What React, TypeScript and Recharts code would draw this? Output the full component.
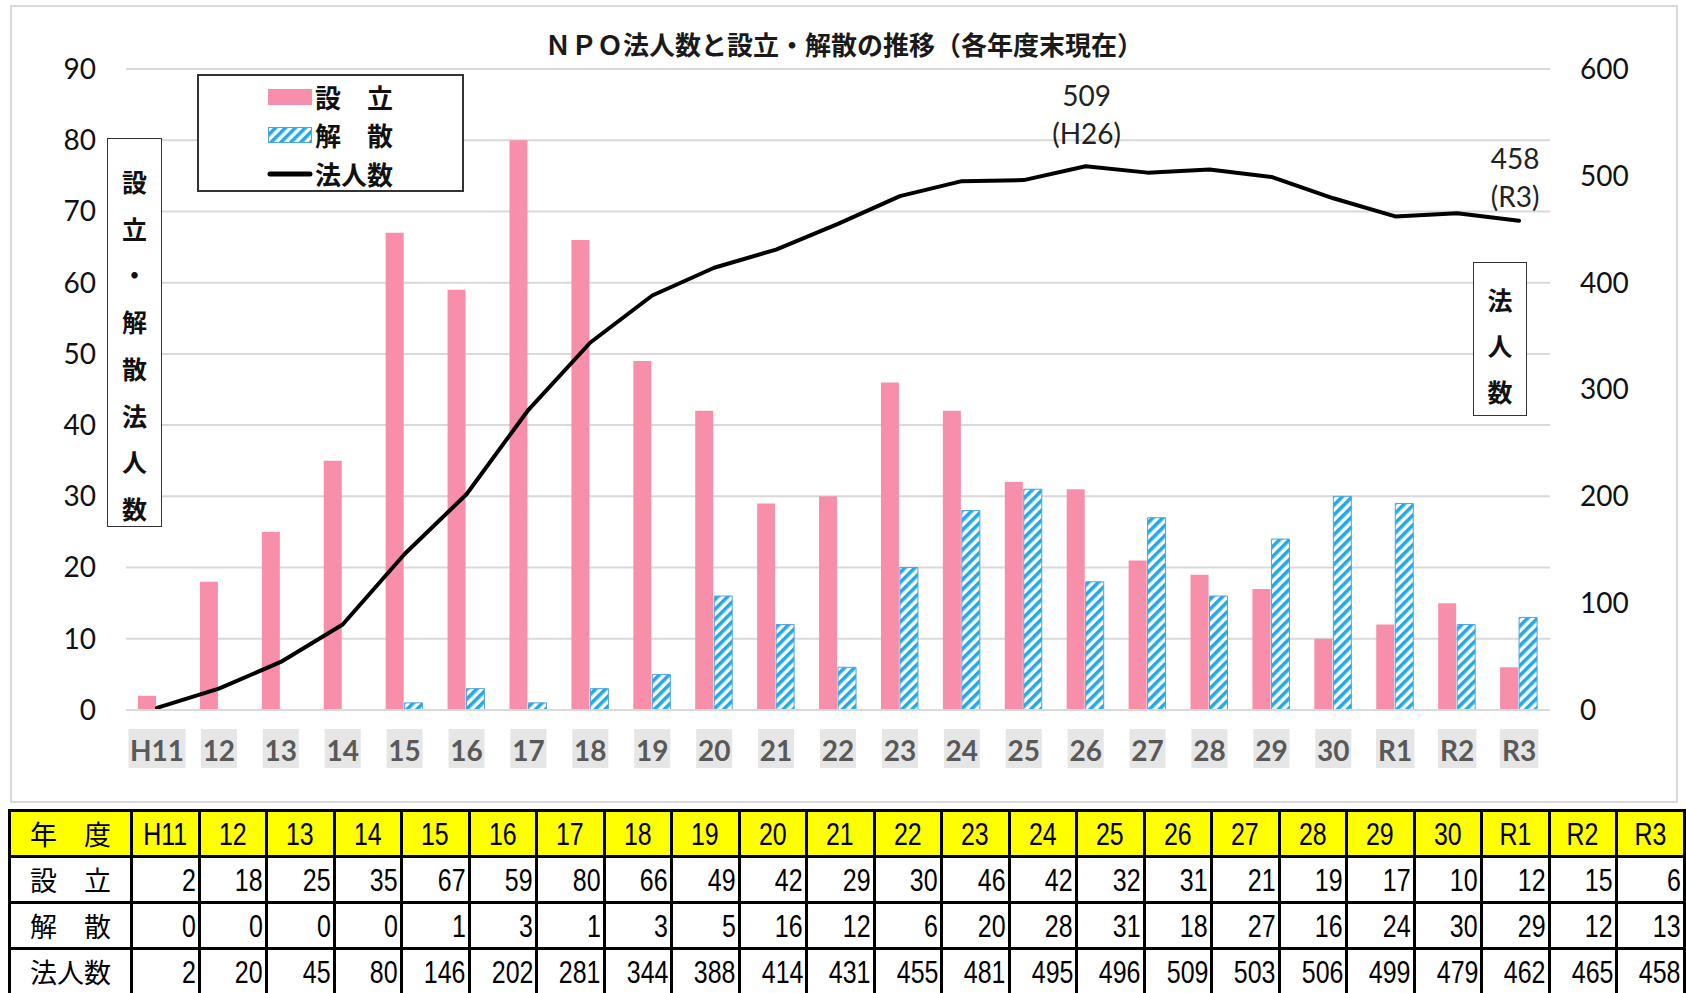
import React from 'react';
import { ComposedChart, Bar, Line, XAxis, YAxis, CartesianGrid } from 'recharts';

const years = ['H11', '12', '13', '14', '15', '16', '17', '18', '19', '20', '21', '22', '23', '24', '25', '26', '27', '28', '29', '30', 'R1', 'R2', 'R3'];
const established = [2, 18, 25, 35, 67, 59, 80, 66, 49, 42, 29, 30, 46, 42, 32, 31, 21, 19, 17, 10, 12, 15, 6];
const dissolved = [0, 0, 0, 0, 1, 3, 1, 3, 5, 16, 12, 6, 20, 28, 31, 18, 27, 16, 24, 30, 29, 12, 13];
const corporations = [2, 20, 45, 80, 146, 202, 281, 344, 388, 414, 431, 455, 481, 495, 496, 509, 503, 506, 499, 479, 462, 465, 458];
const leftTicks = [0, 10, 20, 30, 40, 50, 60, 70, 80, 90];
const rightTicks = [0, 100, 200, 300, 400, 500, 600];
const seriesNames = ['設　立', '解　散', '法人数'];
const rowHeads = ['年　度', '設　立', '解　散', '法人数'];
const titleText = 'ＮＰＯ法人数と設立・解散の推移（各年度末現在）';
const leftAxisTitle = '設立・解散法人数';
const rightAxisTitle = '法人数';
const callouts = [
  { index: 15, era: 'H26' },
  { index: 22, era: 'R3' },
];

const calloutOffsets: Record<string, { dx: number; dy1: number; dy2: number }> = {
  H26: { dx: 1, dy1: -60, dy2: -22 },
  R3: { dx: -4, dy1: -52, dy2: -14 },
};

const data = years.map((y, i) => ({
  year: y,
  est: established[i],
  dis: dissolved[i],
  total: corporations[i],
}));

const PINK = '#F78FAB';
const STRIPE = '#22A9E6';
const BLUE_EDGE = '#4FA3E0';
const LATIN = 'Lato, "Noto Sans CJK JP", sans-serif';
const CJK = '"Noto Sans CJK JP", "Noto Sans", sans-serif';
const NARROW = '"Liberation Sans", Arial, sans-serif';

const charW = (s: string) =>
  s.split('').reduce((a, ch) => a + (ch === 'H' ? 21 : ch === 'R' ? 19 : 16.5), 0);

const XTick = (props: any) => {
  const { x, y, payload } = props;
  const label = String(payload.value);
  const w = charW(label) + 3;
  return (
    <g>
      <rect x={x - w / 2} y={y + 19} width={w} height={39} fill="#E7E6E6" />
      <text x={x} y={y + 51} textAnchor="middle" fontSize={28} fontWeight={700} fill="#595959" fontFamily={LATIN}>
        {label}
      </text>
    </g>
  );
};

const CalloutDot = (props: any) => {
  const { cx, cy, index, payload } = props;
  const c = callouts.find((k) => k.index === index);
  if (!c || cx == null || cy == null) return <g key={`d-${index}`} />;
  const o = calloutOffsets[c.era];
  return (
    <g key={`d-${index}`}>
      <text x={cx + o.dx} y={cy + o.dy1} textAnchor="middle" fontSize={28} fill="#222" fontFamily={LATIN}>
        {payload.total}
      </text>
      <text x={cx + o.dx} y={cy + o.dy2} textAnchor="middle" fontSize={28} fill="#222" fontFamily={LATIN}>
        ({c.era})
      </text>
    </g>
  );
};

const HatchDefs = ({ id }: { id: string }) => (
  <defs>
    <pattern id={id} patternUnits="userSpaceOnUse" width={7} height={7} patternTransform="rotate(45)">
      <rect x={0} y={0} width={7} height={7} fill="#fff" />
      <rect x={0} y={0} width={3.6} height={7} fill={STRIPE} />
    </pattern>
  </defs>
);

const VerticalTitle = ({ text, left, top, width, height, first, step }: any) => (
  <div
    style={{
      position: 'absolute',
      left,
      top,
      width,
      height,
      border: '1.5px solid #333',
      boxSizing: 'border-box',
      background: '#fff',
    }}
  >
    {text.split('').map((ch: string, i: number) => (
      <div
        key={i}
        style={{
          position: 'absolute',
          left: 0,
          width: '100%',
          top: first + i * step - 16,
          height: 32,
          lineHeight: '32px',
          textAlign: 'center',
          fontFamily: CJK,
          fontSize: 25,
          fontWeight: 700,
          color: '#111',
        }}
      >
        {ch}
      </div>
    ))}
  </div>
);

const Legend = () => {
  const rowY = [21, 59, 98];
  return (
    <div
      style={{
        position: 'absolute',
        left: 197,
        top: 74,
        width: 267,
        height: 118,
        border: '2px solid #333',
        boxSizing: 'border-box',
        background: '#fff',
      }}
    >
      {seriesNames.map((name, i) => (
        <React.Fragment key={name}>
          <svg style={{ position: 'absolute', left: 67, top: rowY[i] - 10 }} width={48} height={20}>
            <HatchDefs id={`lg-hatch-${i}`} />
            {i === 0 && <rect x={2} y={2} width={44} height={16} fill={PINK} />}
            {i === 1 && <rect x={2.5} y={2.5} width={43} height={15} fill={`url(#lg-hatch-${i})`} stroke={BLUE_EDGE} strokeWidth={1} />}
            {i === 2 && <line x1={4} y1={10} x2={44} y2={10} stroke="#000" strokeWidth={5} strokeLinecap="round" />}
          </svg>
          <div
            style={{
              position: 'absolute',
              left: 116,
              top: rowY[i] - 17,
              height: 34,
              lineHeight: '34px',
              fontFamily: CJK,
              fontSize: 26,
              fontWeight: 700,
              color: '#111',
              whiteSpace: 'pre',
            }}
          >
            {name}
          </div>
        </React.Fragment>
      ))}
    </div>
  );
};

const cellBorder = '3px solid #000';

const DataTable = () => {
  const rows = [
    { head: rowHeads[0], vals: years, header: true },
    { head: rowHeads[1], vals: established.map(String), header: false },
    { head: rowHeads[2], vals: dissolved.map(String), header: false },
    { head: rowHeads[3], vals: corporations.map(String), header: false },
  ];
  return (
    <table
      style={{
        position: 'absolute',
        left: 8,
        top: 809,
        width: 1676,
        borderCollapse: 'collapse',
        tableLayout: 'fixed',
      }}
    >
      <colgroup>
        <col style={{ width: 122 }} />
        {years.map((y) => (
          <col key={y} style={{ width: 67.5 }} />
        ))}
      </colgroup>
      <tbody>
        {rows.map((r, ri) => (
          <tr key={ri} style={{ height: 46 }}>
            <td
              style={{
                border: cellBorder,
                background: r.header ? '#FFFF00' : '#fff',
                textAlign: 'center',
                fontFamily: CJK,
                fontSize: 27,
                padding: 0,
                lineHeight: '40px',
                whiteSpace: 'pre',
                color: '#000',
              }}
            >
              {r.head}
            </td>
            {r.vals.map((v, ci) => (
              <td
                key={ci}
                style={{
                  border: cellBorder,
                  background: r.header ? '#FFFF00' : '#fff',
                  textAlign: r.header ? 'center' : 'right',
                  paddingRight: r.header ? 0 : 2,
                  paddingLeft: 0,
                  paddingTop: 0,
                  paddingBottom: 0,
                  fontFamily: NARROW,
                  fontSize: 32,
                  lineHeight: '40px',
                  color: '#000',
                  whiteSpace: 'nowrap',
                  overflow: 'hidden',
                }}
              >
                <span
                  style={{
                    display: 'inline-block',
                    transform: 'scaleX(0.78)',
                    transformOrigin: r.header ? 'center center' : 'right center',
                  }}
                >
                  {v}
                </span>
              </td>
            ))}
          </tr>
        ))}
      </tbody>
    </table>
  );
};

export default function App() {
  return (
    <div style={{ position: 'absolute', left: 0, top: 0, width: 1686, height: 993, background: '#fff', overflow: 'hidden' }}>
      <div
        style={{
          position: 'absolute',
          left: 10,
          top: 5,
          width: 1668,
          height: 798,
          border: '2px solid #D9D9D9',
          boxSizing: 'border-box',
        }}
      />
      <div style={{ position: 'absolute', left: 10, top: 5 }}>
        <ComposedChart
          width={1668}
          height={798}
          data={data}
          margin={{ top: 64, right: 0, bottom: 33, left: 0 }}
          barGap={1}
        >
          <HatchDefs id="bar-hatch" />
          <CartesianGrid yAxisId="left" vertical={false} stroke="#D9D9D9" strokeWidth={2} />
          <XAxis
            dataKey="year"
            interval={0}
            height={60}
            tickSize={0}
            tickMargin={0}
            tickLine={false}
            axisLine={{ stroke: '#D9D9D9', strokeWidth: 2 }}
            tick={<XTick />}
          />
          <YAxis
            yAxisId="left"
            orientation="left"
            width={116}
            domain={[0, 90]}
            ticks={leftTicks}
            interval={0}
            tickLine={false}
            axisLine={false}
            tickSize={0}
            tickMargin={30}
            tick={{ fontSize: 28, fill: '#111', fontFamily: LATIN }}
          />
          <YAxis
            yAxisId="right"
            orientation="right"
            width={128}
            domain={[0, 600]}
            ticks={rightTicks}
            interval={0}
            tickLine={false}
            axisLine={false}
            tickSize={0}
            tickMargin={30}
            tick={{ fontSize: 28, fill: '#111', fontFamily: LATIN, textAnchor: 'start' }}
          />
          <Bar yAxisId="left" dataKey="est" barSize={18} fill={PINK} isAnimationActive={false} />
          <Bar
            yAxisId="left"
            dataKey="dis"
            barSize={18}
            fill="url(#bar-hatch)"
            stroke={BLUE_EDGE}
            strokeWidth={1}
            isAnimationActive={false}
          />
          <Line
            yAxisId="right"
            dataKey="total"
            type="linear"
            stroke="#000"
            strokeWidth={4}
            strokeLinejoin="round"
            strokeLinecap="round"
            dot={CalloutDot}
            activeDot={false}
            isAnimationActive={false}
          />
        </ComposedChart>
      </div>
      <div
        style={{
          position: 'absolute',
          left: 494,
          top: 28,
          width: 700,
          height: 32,
          lineHeight: '32px',
          textAlign: 'center',
          fontFamily: CJK,
          fontSize: 26,
          fontWeight: 700,
          color: '#1a1a1a',
          whiteSpace: 'nowrap',
        }}
      >
        {titleText}
      </div>
      <Legend />
      <VerticalTitle text={leftAxisTitle} left={107} top={138} width={55} height={389} first={42} step={46.7} />
      <VerticalTitle text={rightAxisTitle} left={1473} top={262} width={54} height={154} first={36} step={46} />
      <DataTable />
    </div>
  );
}
